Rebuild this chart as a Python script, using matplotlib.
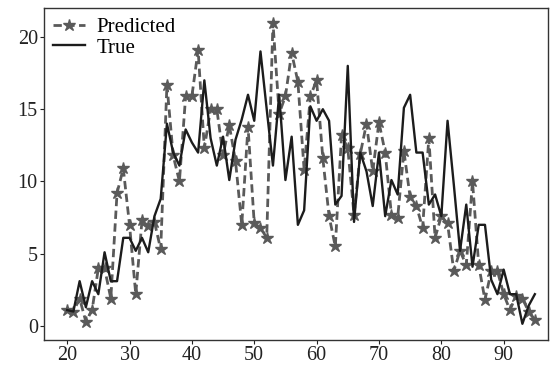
import numpy as np
import matplotlib.pyplot as plt

x = np.arange(20, 96)

predicted = [1.1, 1.0, 1.9, 0.3, 1.1, 4.0, 4.0, 1.9, 9.2, 10.9,
             7.0, 2.2, 7.3, 6.9, 7.2, 5.3, 16.7, 11.8, 10.0, 15.9,
             15.9, 19.1, 12.3, 15.0, 15.0, 11.8, 13.9, 11.4, 7.0, 13.8,
             7.1, 6.8, 6.1, 21.0, 14.7, 15.9, 18.9, 16.9, 10.8, 15.9,
             17.0, 11.6, 7.6, 5.5, 13.2, 12.3, 7.7, 11.9, 14.0, 10.7,
             14.1, 12.0, 7.7, 7.5, 12.1, 8.9, 8.3, 6.8, 13.0, 6.1,
             7.6, 7.1, 3.8, 5.2, 4.2, 10.0, 4.2, 1.8, 3.8, 3.8,
             2.2, 1.1, 2.1, 1.9, 1.0, 0.4]

true = [1.1, 1.0, 3.1, 1.3, 3.1, 2.2, 5.1, 3.1, 3.1, 6.1,
        6.1, 5.2, 6.1, 5.1, 7.6, 8.8, 14.0, 12.0, 11.1, 13.6,
        12.7, 12.0, 17.0, 13.0, 11.1, 13.1, 10.1, 12.9, 14.3, 16.0,
        14.2, 19.0, 15.0, 11.1, 16.0, 10.1, 13.1, 7.0, 8.0, 15.2,
        14.2, 15.0, 14.2, 8.4, 9.0, 18.0, 7.2, 12.0, 10.7, 8.3,
        12.0, 7.6, 10.1, 9.1, 15.1, 16.0, 12.0, 12.0, 8.4, 9.1,
        7.6, 14.2, 9.8, 5.2, 8.4, 4.1, 7.0, 7.0, 3.2, 2.2,
        3.9, 2.2, 2.2, 0.15, 1.4, 2.2]

plt.rcParams['font.family'] = ['Liberation Serif', 'DejaVu Serif']

fig = plt.figure(figsize=(5.58, 3.67), dpi=100)
ax = fig.add_axes([0.079, 0.074, 0.903, 0.904])

ax.plot(x, predicted, color='#5a5a5a', linestyle=(0, (3, 1.6)), linewidth=2.0,
        marker='*', markersize=9, markerfacecolor='#5a5a5a',
        markeredgecolor='#5a5a5a', label='Predicted')
ax.plot(x, true, color='#1c1c1c', linewidth=1.7, label='True')

ax.set_xlim(16.3, 97.1)
ax.set_ylim(-0.96, 22.0)
ax.set_xticks([20, 30, 40, 50, 60, 70, 80, 90])
ax.set_yticks([0, 5, 10, 15, 20])
ax.tick_params(labelsize=14.5, length=3, width=0.8, pad=1.5, colors='#222222')
for s in ax.spines.values():
    s.set_color('#333333')
    s.set_linewidth(1.0)

ax.legend(loc='upper left', frameon=False, fontsize=15,
          handlelength=1.5, borderpad=0.15, labelspacing=0.05,
          borderaxespad=0.3, handletextpad=0.55)

fig.savefig('out.png', dpi=100)
